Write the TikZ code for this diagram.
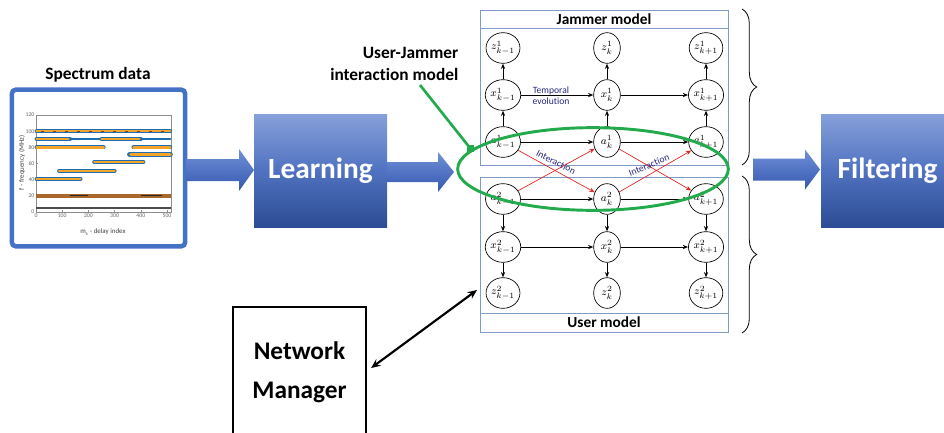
\documentclass[tikz,border=0pt]{standalone}
\usepackage{fontspec}
\setmainfont{Carlito}[Ligatures=NoCommon]
\usetikzlibrary{shapes.geometric,arrows.meta,decorations.pathreplacing,calc}

\definecolor{frameblue}{RGB}{68,114,196}
\definecolor{boxtop}{RGB}{134,160,218}
\definecolor{boxmid}{RGB}{80,114,192}
\definecolor{boxbot}{RGB}{44,76,148}
\definecolor{arrtop}{RGB}{112,144,214}
\definecolor{arrbot}{RGB}{54,88,176}
\definecolor{modelline}{RGB}{128,156,196}
\definecolor{lblue}{RGB}{38,38,130}
\definecolor{intred}{RGB}{232,32,32}
\definecolor{ringgreen}{RGB}{34,170,76}
\definecolor{bandorange}{RGB}{244,164,40}
\definecolor{bandblue}{RGB}{30,110,180}
\definecolor{bandbrown}{RGB}{170,104,44}

\tikzset{
  var/.style={ellipse, draw, line width=0.5pt, fill=white, minimum width=20pt,
    minimum height=23pt, inner sep=0pt, font=\fontsize{8.5}{9}\selectfont},
  flow/.style={-{Stealth[length=4pt,width=3.2pt]}, line width=0.7pt},
  inter/.style={-{Stealth[length=4pt,width=3.2pt]}, line width=0.5pt, draw=intred},
  procbox/.style={text=white, font=\bfseries\fontsize{22}{26}\selectfont,
    top color=boxtop, bottom color=boxbot, middle color=boxmid,
    minimum width=99.75pt, minimum height=84.75pt, inner sep=0pt},
  modelbox/.style={draw=modelline, line width=0.6pt, minimum width=186pt,
    minimum height=116.25pt, inner sep=0pt},
  modeltitle/.style={font=\bfseries\fontsize{11.5}{13}\selectfont},
  arrowfill/.style={top color=arrtop, bottom color=arrbot},
  ticklab/.style={font=\fontsize{4.3}{5}\selectfont, text=black!60, inner sep=1pt},
  axlab/.style={font=\fontsize{5.2}{6}\selectfont, text=black!75, inner sep=0pt},
  bandout/.style={draw=bandblue, line width=3pt, line cap=round},
  bandin/.style={draw=bandorange, line width=1.8pt, line cap=round},
  lbl/.style={text=lblue, font=\fontsize{7.2}{8.4}\selectfont, inner sep=0pt, align=center},
  bracestyle/.style={decorate, decoration={brace, amplitude=11pt}, line width=0.6pt},
}

% block arrow: x start, x of head base, x tip, y centre, shaft half height, head half height
\newcommand\fatarrow[6]{%
  \shade[arrowfill] (#1,#4-#5) -- (#2,#4-#5) -- (#2,#4-#6) -- (#3,#4)
    -- (#2,#4+#6) -- (#2,#4+#5) -- (#1,#4+#5) -- cycle;}
% one spectral band: level, from, to
\newcommand\band[3]{\draw[bandout] (#2,#1) -- (#3,#1); \draw[bandin] (#2,#1) -- (#3,#1);}

\begin{document}
\begin{tikzpicture}[x=0.75pt,y=-0.75pt]
\useasboundingbox (0,0) rectangle (944,432);
\clip (0,0) rectangle (944,432);

% ---------- spectrum data ----------
\node[font=\bfseries\fontsize{13}{15}\selectfont] (spectitle) at (98,75) {Spectrum data};
\node[draw=frameblue, line width=3.4pt, rounded corners=3pt, fill=white,
  minimum width=130pt, minimum height=117.5pt] (spec) at (98.5,168) {};

\begin{scope}[shift={(36,212)}, x=0.1965pt, y=0.6053pt]
  \draw[black!45, line width=0.3pt] (0,0) rectangle (517,120);
  \foreach \v in {0,20,...,120} {
    \draw[black!45, line width=0.3pt] (0,\v) -- (6,\v);
    \node[ticklab, anchor=east] at (0,\v) {\v};
  }
  \foreach \u in {0,100,...,500} {
    \draw[black!45, line width=0.3pt] (\u,0) -- (\u,3);
    \node[ticklab, anchor=north] at (\u,0) {\u};
  }
  % bands
  \band{100}{2}{512}
  \draw[bandbrown!70!black, line width=0.5pt, dash pattern=on 2pt off 7pt] (20,100) -- (500,100);
  \band{90.5}{2}{130}
  \draw[bandblue, line width=2pt, line cap=round] (130,90.5) -- (250,90.5);
  \band{90.5}{250}{400}
  \draw[bandblue, line width=2pt, line cap=round] (400,90.5) -- (512,90.5);
  \band{80}{2}{258}
  \band{80}{372}{512}
  \draw[bandout, line width=4pt] (358,71.5) -- (512,71.5);
  \draw[bandin, line width=2.6pt] (362,71.5) -- (512,71.5);
  \band{62}{222}{410}
  \band{51}{88}{300}
  \band{41}{2}{170}
  \draw[bandbrown, line width=2.6pt] (0,20) -- (517,20);
  \draw[black!85, line width=1.4pt] (130,20.5) -- (480,20.5);
  \draw[bandbrown, line width=0.8pt] (200,20) -- (400,20);
  \draw[black!70, line width=0.9pt] (0,5) -- (517,5);
\end{scope}
\node[axlab, rotate=90] (ylab) at (22,163) {f - frequency (MHz)};
\node[axlab] (xlab) at (103,232) {m$_\mathrm{s}$ - delay index};

% ---------- processing blocks ----------
\node[procbox] (learn) at (320.5,170.5) {Learning};
\node[procbox] (filt) at (887.5,170.5) {Filtering};

\fatarrow{186}{239}{254}{170}{11}{21}
\fatarrow{387}{438}{454}{172}{10}{20}
\fatarrow{753}{805}{820}{169.5}{11}{20}

% ---------- model boxes ----------
\node[modelbox] (jbox) at (604,87.5) {};
\draw[modelline, line width=0.6pt] (jbox.north west) ++(0,18.5) coordinate (jt) -- (jt -| jbox.east);
\node[modeltitle] (jtitle) at (604,19) {Jammer model};

\node[modelbox] (ubox) at (604,254.5) {};
\draw[modelline, line width=0.6pt] (ubox.south west) ++(0,-19) coordinate (ut) -- (ut -| ubox.east);
\node[modeltitle] (utitle) at (604,322.5) {User model};

% ---------- jammer chain ----------
\node[var] (z1p) at (503,48) {$z^1_{k-1}$};
\node[var] (z1c) at (607,48) {$z^1_{k}$};
\node[var] (z1n) at (706,48) {$z^1_{k+1}$};
\node[var] (x1p) at (503,95) {$x^1_{k-1}$};
\node[var] (x1c) at (607,95) {$x^1_{k}$};
\node[var] (x1n) at (706,95) {$x^1_{k+1}$};
\node[var] (a1p) at (503,142) {$a^1_{k-1}$};
\node[var] (a1c) at (607,142) {$a^1_{k}$};
\node[var] (a1n) at (706,142) {$a^1_{k+1}$};

% ---------- user chain ----------
\node[var] (a2p) at (503,199) {$a^2_{k-1}$};
\node[var] (a2c) at (607,199) {$a^2_{k}$};
\node[var] (a2n) at (706,199) {$a^2_{k+1}$};
\node[var] (x2p) at (503,247) {$x^2_{k-1}$};
\node[var] (x2c) at (607,247) {$x^2_{k}$};
\node[var] (x2n) at (706,247) {$x^2_{k+1}$};
\node[var] (z2p) at (503,293) {$z^2_{k-1}$};
\node[var] (z2c) at (607,293) {$z^2_{k}$};
\node[var] (z2n) at (706,293) {$z^2_{k+1}$};

\foreach \c in {p,c,n} {
  \draw[flow] (x1\c) -- (z1\c);
  \draw[flow] (a1\c) -- (x1\c);
  \draw[flow] (a2\c) -- (x2\c);
  \draw[flow] (x2\c) -- (z2\c);
}
\foreach \r in {x1,a1,a2,x2} {
  \draw[flow] (\r p) -- (\r c);
  \draw[flow] (\r c) -- (\r n);
}

\node[lbl] (temporal) at (551,96) {Temporal\\evolution};

% interaction links
\draw[inter] (a1p) -- (a2c);
\draw[inter] (a2p) -- (a1c);
\draw[inter] (a1c) -- (a2n);
\draw[inter] (a2c) -- (a1n);
\node[lbl, rotate=-27] (int1) at (556,162) {Interaction};
\node[lbl, rotate=22] (int2) at (649,165) {Interaction};

% interaction ring and its label
\draw[ringgreen, line width=2.2pt] (593,169) ellipse [x radius=101.5pt, y radius=31pt];
\node[font=\bfseries\fontsize{13}{17}\selectfont, align=right, anchor=east] (ringlabel)
  at (463,64) {User-Jammer\\interaction model};
\coordinate (ringpt) at (470,148);
\draw[ringgreen, line width=2pt] (420,85) -- (ringpt);
\fill[ringgreen] ($(ringpt)+(-3.5,-3.5)$) rectangle ($(ringpt)+(3.5,3.5)$);

% braces
\draw[bracestyle] (742,9) -- (742,165);
\draw[bracestyle] (742,176) -- (742,333);

% ---------- network manager ----------
\node[draw, line width=1.6pt, minimum width=99.75pt, minimum height=97.5pt,
  align=center, font=\bfseries\fontsize{19}{29.5}\selectfont] (nm) at (299.5,372) {Network\\Manager};
\coordinate (nmlink) at (477,290);
\draw[{Stealth[length=7pt,width=6pt]}-{Stealth[length=7pt,width=6pt]}, line width=1.6pt]
  ([shift={(4,-4)}]nm.east) -- (nmlink);

\end{tikzpicture}
\end{document}
